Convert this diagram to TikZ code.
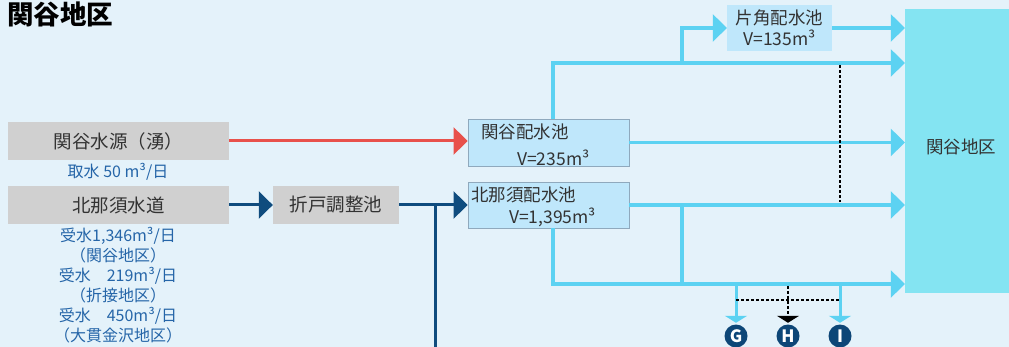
\documentclass[tikz,border=0pt]{standalone}
\usepackage{fontspec}
\setmainfont{Noto Sans CJK JP}
\usetikzlibrary{arrows.meta}
\definecolor{bg}{HTML}{E4F2FA}
\definecolor{graybox}{HTML}{D0D0D0}
\definecolor{txt}{HTML}{333333}
\definecolor{bluetxt}{HTML}{2565A8}
\definecolor{redl}{HTML}{E8514B}
\definecolor{navy}{HTML}{0F4C7E}
\definecolor{cy}{HTML}{5CD2F2}
\definecolor{distfill}{HTML}{84E4F2}
\definecolor{poolfill}{HTML}{BFE7FB}
\definecolor{poolline}{HTML}{8FA9BD}
\definecolor{circ}{HTML}{0D4677}
\begin{document}
\begin{tikzpicture}[x=1pt,y=-1pt,
  graynode/.style={fill=graybox,draw=none,inner sep=0pt,minimum height=38pt,text=txt,font=\fontsize{18.5}{20}\selectfont},
  poolbox/.style={fill=poolfill,draw=poolline,line width=0.8pt,inner sep=0pt},
  pooltext/.style={anchor=west,inner sep=0pt,text=txt,font=\fontsize{17.5}{19}\selectfont},
  bluenote/.style={inner sep=0pt,text=bluetxt,align=center,font=\fontsize{16}{20}\selectfont},
  bigtip/.style={-{Triangle[length=14pt,width=27pt]}},
  redarrow/.style={draw=redl,line width=3pt,bigtip},
  navyline/.style={draw=navy,line width=3pt},
  navyarrow/.style={navyline,bigtip},
  cyline/.style={draw=cy,line width=3.5pt},
  cyarrow/.style={cyline,bigtip},
  cydown/.style={draw=cy,line width=3pt,-{Triangle[length=7pt,width=22pt]}},
  dashblk/.style={draw=black,line width=1.3pt,dash pattern=on 3pt off 2pt},
  circnode/.style={circle,fill=circ,minimum size=23pt,inner sep=0pt,text=white,font=\fontsize{17}{17}\selectfont\bfseries}
]
\fill[bg] (0,0) rectangle (1009,347);
\useasboundingbox (0,0) rectangle (1009,347);

% title
\node[anchor=west,inner sep=0pt,font=\fontsize{26.5}{26.5}\selectfont\bfseries] (title) at (7,14) {関谷地区};

% left boxes
\node[graynode,minimum width=221pt] (src) at (118.5,141) {関谷水源（湧）};
\node[bluenote] (srcnote) at (118,172) {取水 50 m³/日};
\node[graynode,minimum width=221pt] (kns) at (118.5,205) {北那須水道};
\node[bluenote,anchor=north] (knsnote) at (118,227) {受水1,346m³/日\\（関谷地区）\\受水　219m³/日\\（折接地区）\\受水　450m³/日\\（大貫金沢地区）};
\node[graynode,minimum width=126pt] (orito) at (336,205) {折戸調整池};

% pools
\node[poolbox,minimum width=161pt,minimum height=47pt] (seki) at (548.5,142.5) {};
\node[pooltext] (sekiA) at (481,132) {関谷配水池};
\node[pooltext] (sekiB) at (517,158) {V=235m³};
\node[poolbox,minimum width=161pt,minimum height=46pt] (kita) at (548.5,205) {};
\node[pooltext] (kitaA) at (471,195) {北那須配水池};
\node[pooltext] (kitaB) at (509,217) {V=1,395m³};
\node[fill=poolfill,inner sep=0pt,minimum width=105pt,minimum height=46pt,align=center,text=txt,font=\fontsize{17.5}{21}\selectfont] (kata) at (779.5,28) {片角配水池\\V=135m³};

% district
\node[fill=distfill,inner sep=0pt,minimum width=106pt,minimum height=284pt] (dist) at (958,151) {};
\node[inner sep=0pt,text=txt,font=\fontsize{17.5}{19}\selectfont] (distlabel) at (961,147) {関谷地区};

% supply lines
\draw[redarrow] (src.east) -- (src.east -| seki.west);
\draw[navyarrow] (kns.east) -- (orito.west);
\draw[navyarrow] (orito.east) -- (kita.west);
\coordinate (nj) at (435,205);
\coordinate (nend) at (435,350);
\draw[navyline] (nj) -- (nend);

% distribution lines
\coordinate (t1) at (553,63);
\coordinate (t2) at (682,63);
\coordinate (t3) at (682,28);
\draw[cyarrow] (t1 |- seki.north) -- (t1) -- (t1 -| dist.west);
\draw[cyarrow] (t2) -- (t3) -- (kata.west);
\draw[cyarrow] (kata.east) -- (kata.east -| dist.west);
\draw[cyarrow] (seki.east) -- (seki.east -| dist.west);
\draw[cyarrow] (kita.east) -- (kita.east -| dist.west);
\coordinate (b1) at (553,284);
\coordinate (b2) at (682,205);
\coordinate (b3) at (682,284);
\draw[cyline] (b2) -- (b3);
\draw[cyarrow] (b1 |- kita.south) -- (b1) -- (b1 -| dist.west);

% dashed link between the top and middle mains
\coordinate (d1) at (840,65);
\coordinate (d2) at (840,202);
\draw[dashblk] (d1) -- (d2);

% outlets
\node[circnode] (G) at (736,336) {G};
\node[circnode] (H) at (788,336) {H};
\node[circnode] (I) at (840,336) {I};
\coordinate (g0) at (736,284);
\coordinate (h0) at (788,286);
\coordinate (i0) at (840,284);
\draw[cydown,shorten >=1.5pt] (g0) -- (G.north);
\draw[cydown,shorten >=1.5pt] (i0) -- (I.north);
\coordinate (gd) at (736,300);
\coordinate (id) at (840,300);
\draw[dashblk] (gd) -- (id);
\draw[dashblk,-{Triangle[length=7pt,width=22pt]},shorten >=1.5pt] (h0) -- (H.north);
\end{tikzpicture}
\end{document}
